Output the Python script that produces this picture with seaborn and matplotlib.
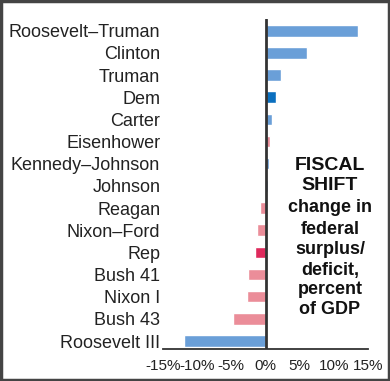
import matplotlib
matplotlib.use("Agg")
import matplotlib.pyplot as plt
import seaborn as sns
import pandas as pd
from matplotlib.patches import Rectangle

names = ["Roosevelt–Truman", "Clinton", "Truman", "Dem", "Carter", "Eisenhower",
         "Kennedy–Johnson", "Johnson", "Reagan", "Nixon–Ford", "Rep", "Bush 41",
         "Nixon I", "Bush 43", "Roosevelt III"]
values = [13.5, 6.1, 2.3, 1.5, 1.0, 0.6, 0.55, 0.4, -0.8, -1.3, -1.6, -2.6, -2.7, -4.8, -12.0]
groups = ["D", "D", "D", "Dem", "D", "R", "D", "D", "R", "R", "Rep", "R", "R", "R", "D"]
group_colors = {"D": "#6a9fd8", "Dem": "#0a6fbf", "R": "#eb8d99", "Rep": "#de2a5c"}
xticks = [-15, -10, -5, 0, 5, 10, 15]

sns.set_style("white")
plt.rcParams['font.family'] = ['Liberation Sans', 'DejaVu Sans']

df = pd.DataFrame({"name": names, "value": values, "group": groups})

fig = plt.figure(figsize=(3.9, 3.81), dpi=100)
ax = fig.add_axes([163/390, 1 - 349/381, (368 - 163)/390, 330/381])

sns.barplot(data=df, x="value", y="name", hue="name",
            palette=[group_colors[g] for g in groups], legend=False,
            orient="h", width=0.52, ax=ax, saturation=1)

ax.set_xlim(-15, 15)
ax.set_ylim(14.36, -0.53)
ax.axvline(0, color="#333333", lw=2, zorder=5)
for s in ["top", "right", "left"]:
    ax.spines[s].set_visible(False)
ax.spines["bottom"].set_color("#333333")
ax.spines["bottom"].set_linewidth(1.3)
ax.set_xticks(xticks)
ax.set_xticklabels([f"{t}%" for t in xticks], fontsize=11, color="#222222")
ax.tick_params(axis="x", direction="in", length=4, width=1.2, color="#333333", pad=7)
ax.tick_params(axis="y", length=0, pad=2)
for lab in ax.get_yticklabels():
    lab.set_fontsize(13)
    lab.set_color("#222222")
ax.set_xlabel("")
ax.set_ylabel("")

fig.text(330/390, 1 - 165/381, "FISCAL", ha="center", va="center", fontsize=14,
         fontweight="bold", color="#111111")
fig.text(330/390, 1 - 186/381, "SHIFT", ha="center", va="center", fontsize=14,
         fontweight="bold", color="#111111")
small = ["change in", "federal", "surplus/", "deficit,", "percent", "of GDP"]
ys = [208, 229, 250, 270, 290, 310]
for s, y in zip(small, ys):
    fig.text(330/390, 1 - y/381, s, ha="center", va="center", fontsize=13,
             fontweight="bold", color="#111111")

fig.patches.append(Rectangle((0.002, 0.002), 0.996, 0.996, transform=fig.transFigure,
                             fill=False, edgecolor="#444444", lw=2.5))

fig.savefig("out.png", dpi=100)
